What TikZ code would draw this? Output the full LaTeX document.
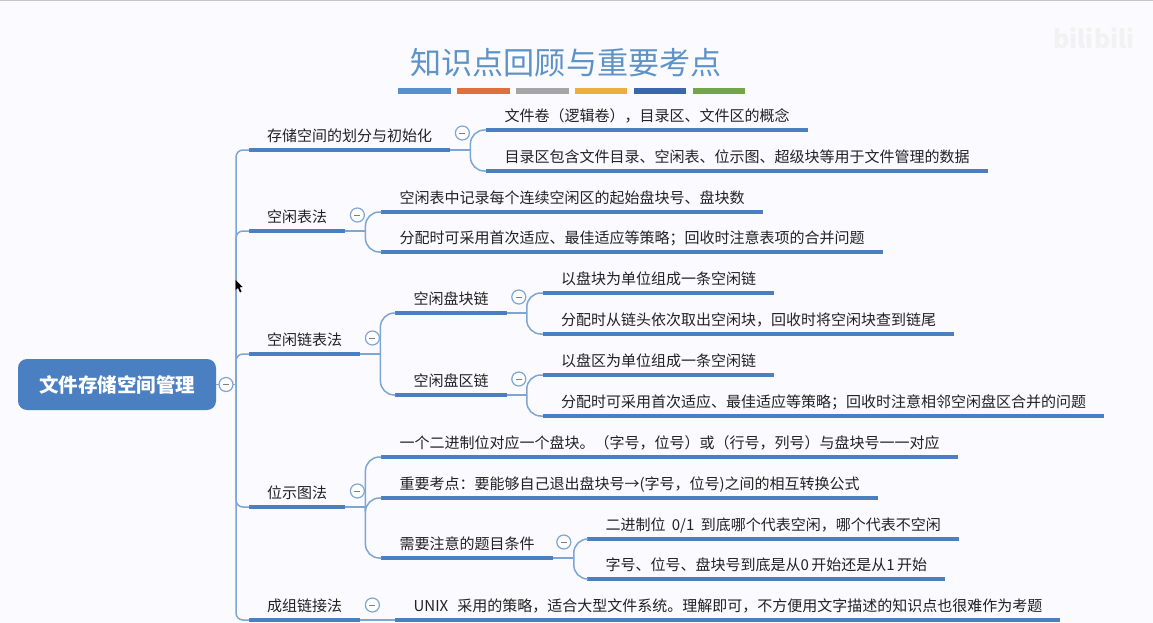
\documentclass[tikz,border=0pt]{standalone}
\usepackage{fontspec}
\setmainfont{Noto Sans CJK SC}
\usepackage{tikz}
\usetikzlibrary{positioning,calc}
\usepackage{xcolor}
\definecolor{mapblue}{HTML}{4A7FC1}
\definecolor{maplink}{HTML}{7FA5D2}
\definecolor{mapink}{HTML}{222222}
\definecolor{maptitle}{HTML}{5E93C8}
\definecolor{stripeblue}{HTML}{5B8FC9}
\definecolor{stripeorange}{HTML}{E0703A}
\definecolor{stripegray}{HTML}{A5A5A5}
\definecolor{stripeyellow}{HTML}{EFAE3C}
\definecolor{stripenavy}{HTML}{3C64B1}
\definecolor{stripegreen}{HTML}{72A54A}

\begin{document}
\begin{tikzpicture}[
    x=1pt, y=-1pt,
    node distance=6pt,
    root/.style={rectangle, fill=mapblue, rounded corners=9pt, minimum width=198pt,
                 minimum height=51pt, text=white, font=\fontsize{19.5}{23}\selectfont\bfseries},
    leaf/.style={anchor=south west, inner xsep=18pt, inner ysep=5.5pt, text height=12pt,
                 text depth=3pt, text=mapink, font=\fontsize{15}{18}\selectfont,
                 append after command={(\tikzlastnode.south west) edge[bar] (\tikzlastnode.south east)}},
    bar/.style={line width=3.6pt, mapblue},
    link/.style={line width=1.5pt, maplink},
    fork/.style={link, rounded corners=14pt},
    fold/.style={circle, draw=maplink, fill=white, line width=1.2pt, minimum size=14pt,
                 inner sep=0pt, text=gray},
    stripe/.style={rectangle, fill=#1, minimum width=52.5pt, minimum height=5.5pt, inner sep=0pt}
]
\useasboundingbox (0,0) rectangle (1153,623);
\fill[white!98!blue] (0,0) rectangle (1153,623);
\draw[gray!45, line width=1.5pt] (0,0) -- (1153,0);

% heading
\node[text=maptitle, font=\fontsize{31.1}{36}\selectfont] (heading) at (566,63) {知识点回顾与重要考点};
\node[stripe=stripeblue, anchor=west] (stripea) at (398,91) {};
\node[stripe=stripeorange, right=of stripea] (stripeb) {};
\node[stripe=stripegray, right=of stripeb] (stripec) {};
\node[stripe=stripeyellow, right=of stripec] (striped) {};
\node[stripe=stripenavy, right=of striped] (stripee) {};
\node[stripe=stripegreen, right=of stripee] (stripef) {};
\node[text=gray!10, font=\fontsize{25}{28}\selectfont\bfseries] (mark) at (1094,38) {bilibili};

% root and main branches
\node[root] (space) at (117,384.5) {文件存储空间管理};
\coordinate (spine) at (236,384.5);
\node[leaf] (init) at (249,150) {存储空间的划分与初始化};
\node[leaf] (table) at (249,231) {空闲表法};
\node[leaf] (chain) at (249,354) {空闲链表法};
\node[leaf] (bitmap) at (249,507) {位示图法};
\node[leaf] (group) at (249,620) {成组链接法};

\node[above right=20pt and 36pt of init.south east, leaf] (volume) {文件卷（逻辑卷），目录区、文件区的概念};
\node[below right=21pt and 36pt of init.south east, leaf] (catalog) {目录区包含文件目录、空闲表、位示图、超级块等用于文件管理的数据};

\node[above right=19pt and 36pt of table.south east, leaf] (record) {空闲表中记录每个连续空闲区的起始盘块号、盘块数};
\node[below right=21pt and 36pt of table.south east, leaf] (merge) {分配时可采用首次适应、最佳适应等策略；回收时注意表项的合并问题};

% the two kinds of chain
\node[above right=41pt and 35pt of chain.south east, leaf] (blocks) {空闲盘块链};
\node[below right=41pt and 35pt of chain.south east, leaf] (zones) {空闲盘区链};
\node[above right=20pt and 36pt of blocks.south east, leaf] (blockunit) {以盘块为单位组成一条空闲链};
\node[below right=21pt and 36pt of blocks.south east, leaf] (blockuse) {分配时从链头依次取出空闲块，回收时将空闲块查到链尾};
\node[above right=20pt and 36pt of zones.south east, leaf] (zoneunit) {以盘区为单位组成一条空闲链};
\node[below right=21pt and 36pt of zones.south east, leaf] (zoneuse) {分配时可采用首次适应、最佳适应等策略；回收时注意相邻空闲盘区合并的问题};

\node[above right=50pt and 36pt of bitmap.south east, leaf] (bitone) {一个二进制位对应一个盘块。（字号，位号）或（行号，列号）与盘块号一一对应};
\node[above right=9pt and 36pt of bitmap.south east, leaf] (bitkey) {重要考点：要能够自己退出盘块号→(字号，位号)之间的相互转换公式};
\node[below right=51pt and 36pt of bitmap.south east, leaf] (bitcond) {需要注意的题目条件};
\node[above right=19pt and 34.5pt of bitcond.south east, leaf] (condfree) {二进制位\hspace{3pt} 0/1\hspace{3pt} 到底哪个代表空闲，哪个代表不空闲};
\node[below right=21pt and 34.5pt of bitcond.south east, leaf] (condbase) {字号、位号、盘块号到底是从0\hspace{2.5pt}开始还是从1\hspace{2.5pt}开始};

\node[right=35pt of group.south east, anchor=south west, leaf] (unix) {UNIX\hspace{9pt}采用的策略，适合大型文件系统。理解即可，不方便用文字描述的知识点也很难作为考题};

% connectors
\draw[link] (space.east) -- (spine);
\draw[fork, rounded corners=7pt] (spine) |- (init.south west);
\draw[fork, rounded corners=7pt] (spine) |- (table.south west);
\draw[fork, rounded corners=7pt] (spine) |- (chain.south west);
\draw[fork, rounded corners=7pt] (spine) |- (bitmap.south west);
\draw[fork, rounded corners=7pt] (spine) |- (group.south west);

\coordinate[right=20pt of init.south east] (initfork);
\draw[link] (init.south east) -- (initfork);
\draw[fork] (initfork) |- (volume.south west);
\draw[fork] (initfork) |- (catalog.south west);

\coordinate[right=20pt of table.south east] (tablefork);
\draw[link] (table.south east) -- (tablefork);
\draw[fork] (tablefork) |- (record.south west);
\draw[fork] (tablefork) |- (merge.south west);

\coordinate[right=20pt of chain.south east] (chainfork);
\draw[link] (chain.south east) -- (chainfork);
\draw[fork] (chainfork) |- (blocks.south west);
\draw[fork] (chainfork) |- (zones.south west);

\coordinate[right=20pt of blocks.south east] (blocksfork);
\draw[link] (blocks.south east) -- (blocksfork);
\draw[fork] (blocksfork) |- (blockunit.south west);
\draw[fork] (blocksfork) |- (blockuse.south west);

\coordinate[right=20pt of zones.south east] (zonesfork);
\draw[link] (zones.south east) -- (zonesfork);
\draw[fork] (zonesfork) |- (zoneunit.south west);
\draw[fork] (zonesfork) |- (zoneuse.south west);

\coordinate[right=20pt of bitmap.south east] (bitmapfork);
\draw[link] (bitmap.south east) -- (bitmapfork);
\draw[fork] (bitmapfork) |- (bitone.south west);
\draw[fork] (bitmapfork) |- (bitkey.south west);
\draw[fork] (bitmapfork) |- (bitcond.south west);

\coordinate[right=21pt of bitcond.south east] (bitcondfork);
\draw[link] (bitcond.south east) -- (bitcondfork);
\draw[fork] (bitcondfork) |- (condfree.south west);
\draw[fork] (bitcondfork) |- (condbase.south west);

\draw[link] (group.south east) -- (unix.south west);

% collapse buttons
\node[fold] (foldspace) at (226,384.5) {\rule{6pt}{1pt}};
\node[fold] (foldinit) at ($(init.south east)+(12,-17)$) {\rule{6pt}{1pt}};
\node[fold] (foldtable) at ($(table.south east)+(12,-16)$) {\rule{6pt}{1pt}};
\node[fold] (foldchain) at ($(chain.south east)+(12,-16)$) {\rule{6pt}{1pt}};
\node[fold] (foldblocks) at ($(blocks.south east)+(12,-16)$) {\rule{6pt}{1pt}};
\node[fold] (foldzones) at ($(zones.south east)+(12,-16)$) {\rule{6pt}{1pt}};
\node[fold] (foldbitmap) at ($(bitmap.south east)+(12,-16)$) {\rule{6pt}{1pt}};
\node[fold] (foldcond) at ($(bitcond.south east)+(11,-16)$) {\rule{6pt}{1pt}};
\node[fold] (foldgroup) at ($(group.south east)+(12,-15)$) {\rule{6pt}{1pt}};

% mouse pointer
\fill[black] (235.5,280) -- (235.5,290) -- (238,288) -- (240,292.5) -- (241.5,291.5) -- (239.5,287.5) -- (242.5,287) -- cycle;
\end{tikzpicture}
\end{document}
